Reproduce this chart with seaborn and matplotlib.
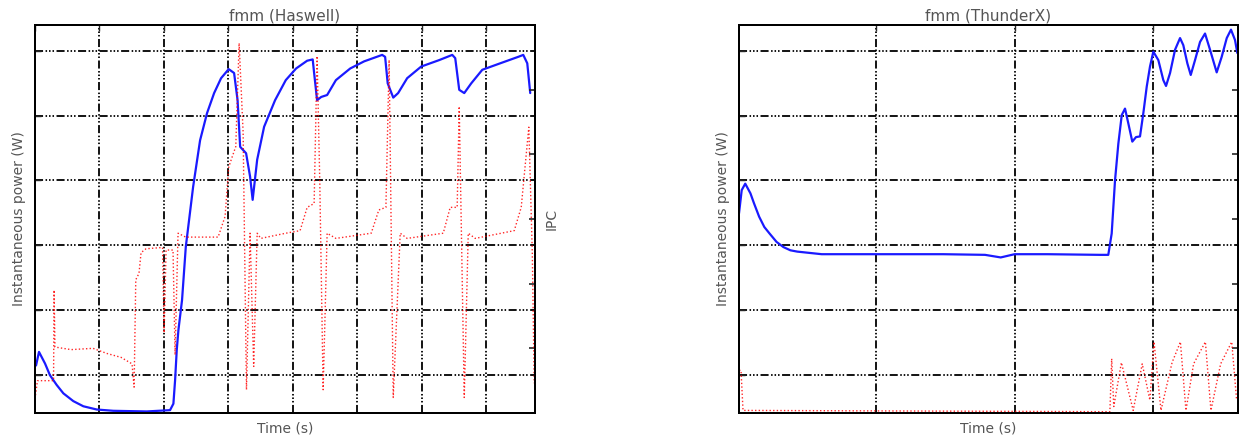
import matplotlib
matplotlib.use("Agg")
import matplotlib.pyplot as plt
import seaborn as sns

# ── Data ──────────────────────────────────────────────────────────────────────
# Haswell: power (W) and IPC over time (s)
haswell_time = [0.08, 0.31, 0.78, 1.16, 1.68, 2.20, 2.97, 3.75, 4.79, 6.08,
                8.67, 10.48, 10.74, 10.87, 11.00, 11.13,
                11.41, 11.70, 12.27, 12.81, 13.35, 13.90, 14.44, 15.03, 15.45, 15.72,
                15.92, 16.38, 16.69, 16.89, 17.24, 17.78, 18.63, 19.46, 20.26, 21.12,
                21.55, 21.66, 21.89, 22.21, 22.67, 23.35, 24.46, 25.54, 26.94, 27.17,
                27.37, 27.80, 28.18, 28.88, 29.97, 31.37, 32.38, 32.61, 32.92, 33.31,
                33.85, 34.71, 36.10, 37.50, 37.89, 38.20, 38.43]
haswell_power = [11.4, 13.5, 11.7, 9.9, 8.4, 7.1, 5.9, 5.1, 4.6, 4.4,
                 4.3, 4.5, 5.5, 9.1, 13.8, 16.9,
                 21.5, 29.7, 39.0, 46.2, 50.4, 53.5, 55.8, 57.2, 56.6, 52.4,
                 45.2, 44.2, 40.6, 37.0, 43.2, 48.3, 52.4, 55.5, 57.3, 58.5,
                 58.7, 56.6, 52.4, 52.9, 53.2, 55.5, 57.3, 58.4, 59.4, 59.1,
                 55.0, 52.8, 53.5, 55.8, 57.6, 58.6, 59.4, 58.9, 54.0, 53.5,
                 55.0, 57.1, 58.1, 59.1, 59.4, 58.1, 53.5]

haswell_ipc_time = [0.00, 0.19, 1.44, 1.48, 1.55, 2.80, 4.50, 5.59, 6.68, 7.53,
                    7.69, 7.82, 8.07, 8.23, 8.62, 9.90, 10.02, 10.17, 10.71, 10.87,
                    11.10, 11.70, 14.21, 14.75, 15.03, 15.30, 15.58, 15.84, 16.15, 16.41,
                    16.69, 16.97, 17.24, 17.52, 19.46, 20.57, 21.12, 21.66, 21.89, 22.10,
                    22.36, 22.67, 23.35, 26.09, 26.68, 27.23, 27.48, 27.80, 28.34, 28.88,
                    31.68, 32.22, 32.76, 32.92, 33.31, 33.62, 34.16, 37.19, 37.73, 38.32,
                    38.59, 38.74]
haswell_ipc = [0.11, 0.25, 0.25, 0.95, 0.51, 0.49, 0.50, 0.46, 0.43, 0.38,
               0.20, 1.03, 1.08, 1.24, 1.27, 1.28, 0.62, 1.26, 1.26, 0.45,
               1.39, 1.36, 1.36, 1.52, 1.90, 1.98, 2.06, 2.86, 2.17, 0.18,
               1.39, 0.36, 1.39, 1.35, 1.39, 1.41, 1.59, 1.62, 2.76, 1.78,
               0.18, 1.39, 1.35, 1.39, 1.57, 1.59, 2.73, 0.12, 1.39, 1.35,
               1.39, 1.59, 1.59, 2.37, 0.12, 1.39, 1.35, 1.41, 1.59, 2.21,
               1.24, 0.23]

# ThunderX: power (W) and IPC over time (s)
thunderx_time = [0.30, 0.69, 1.20, 1.95, 2.45, 3.20, 3.95, 4.70, 5.71, 6.70,
                 7.71, 8.70, 12.22, 19.73, 29.74, 35.75, 38.01, 40.01, 44.77, 52.32,
                 53.51, 54.00, 54.48, 54.96, 55.45, 55.92, 56.40, 56.97, 57.51, 58.08,
                 58.56, 59.05, 59.52, 60.00, 60.72, 61.44, 61.83, 62.41, 63.13, 63.85,
                 64.32, 64.90, 65.39, 66.01, 66.73, 67.45, 68.17, 69.13, 69.85, 70.58,
                 71.19, 71.77, 72.10]
thunderx_power = [84.9, 88.5, 89.5, 88.0, 86.5, 84.4, 82.8, 81.8, 80.5, 79.7,
                  79.2, 79.0, 78.6, 78.6, 78.6, 78.5, 78.1, 78.6, 78.6, 78.5,
                  78.5, 81.8, 90.0, 95.7, 100.1, 101.1, 98.8, 96.0, 96.7, 96.8,
                  100.4, 104.5, 107.6, 109.9, 108.6, 105.5, 104.6, 106.6, 110.2, 112.0,
                  110.9, 108.1, 106.3, 108.6, 111.4, 112.7, 110.2, 106.7, 109.1, 112.0,
                  113.3, 111.7, 109.7]

thunderx_ipc_time = [0.30, 0.59, 0.88, 53.74, 54.0, 54.3, 55.4, 57.1, 58.4, 59.5,
                     60.1, 61.1, 62.7, 63.9, 64.7, 65.8, 67.5, 68.3, 69.7, 71.3,
                     72.0]
thunderx_ipc = [0.33, 0.33, 0.02, 0.01, 0.42, 0.05, 0.39, 0.02, 0.38, 0.10,
                0.55, 0.02, 0.39, 0.55, 0.02, 0.38, 0.55, 0.02, 0.38, 0.55,
                0.10]

# axis ranges / ticks (no tick labels in the original, only grid)
haswell_xticks  = [0, 5, 10, 15, 20, 25, 30, 35]
haswell_yticks  = [10, 20, 30, 40, 50, 60]
thunderx_xticks = [20, 40, 60]
thunderx_yticks = [60, 70, 80, 90, 100, 110]
ipc_ticks       = [0.5, 1.0, 1.5, 2.0, 2.5]

# ── Style ─────────────────────────────────────────────────────────────────────
sns.set_style("white")
plt.rcParams['font.family'] = ['DejaVu Sans']
plt.rcParams['lines.scale_dashes'] = False

GRID_DASH = (0, (5.8, 1.8, 1.1, 1.4, 1.1, 1.4, 1.1, 1.8))
TEXT_GREY = '#555555'
W, H = 1245, 436


def draw_panel(ax, title, t, p, ipc_t, ipc, xlim, xticks, ylim, yticks, ipc_label):
    sns.lineplot(x=t, y=p, ax=ax, color='#1a1aff', lw=1.6,
                 estimator=None, sort=False, zorder=3)
    ax.set_xlim(*xlim)
    ax.set_ylim(*ylim)
    ax.set_xticks(xticks)
    ax.set_yticks(yticks)
    ax.grid(True, color='black', lw=1.3, linestyle=GRID_DASH)
    ax.tick_params(direction='in', length=4, width=1, top=True,
                   labelbottom=False, labelleft=False)
    for s in ax.spines.values():
        s.set_linewidth(1.4)
        s.set_color('black')

    ax.set_title(title, fontsize=11, color=TEXT_GREY, pad=3.5)
    ax.set_xlabel('Time (s)', fontsize=10, color=TEXT_GREY)
    ax.set_ylabel('Instantaneous power (W)', fontsize=10, color=TEXT_GREY)
    ax.xaxis.set_label_coords(0.5, -0.023)
    ax.yaxis.set_label_coords(-0.018, 0.5)

    ax2 = ax.twinx()
    sns.lineplot(x=ipc_t, y=ipc, ax=ax2, color='#ff0000', lw=1.0, alpha=0.85,
                 linestyle=(0, (1.0, 1.6)), estimator=None, sort=False)
    ax2.set_ylim(0, 3.0)
    ax2.set_yticks(ipc_ticks)
    ax2.tick_params(direction='in', length=4, width=1.2, labelright=False)
    ax2.grid(False)
    for s in ax2.spines.values():
        s.set_linewidth(1.4)
        s.set_color('black')
    if ipc_label:
        ax2.set_ylabel('IPC', fontsize=10, color=TEXT_GREY)
        ax2.yaxis.set_label_coords(1.02, 0.5)
    else:
        ax2.set_ylabel('')
    return ax2


fig = plt.figure(figsize=(W / 100, H / 100), dpi=100)
ax_h = fig.add_axes([35 / W, 23 / H, 500 / W, 388 / H])
ax_t = fig.add_axes([739 / W, 23 / H, 499 / W, 388 / H])

draw_panel(ax_h, 'fmm (Haswell)', haswell_time, haswell_power,
           haswell_ipc_time, haswell_ipc,
           (0, 38.8), haswell_xticks, (4.06, 64.02), haswell_yticks, True)
draw_panel(ax_t, 'fmm (ThunderX)', thunderx_time, thunderx_power,
           thunderx_ipc_time, thunderx_ipc,
           (0.3, 72.2), thunderx_xticks, (54.06, 114.02), thunderx_yticks, False)

fig.savefig('out.png', dpi=100)
